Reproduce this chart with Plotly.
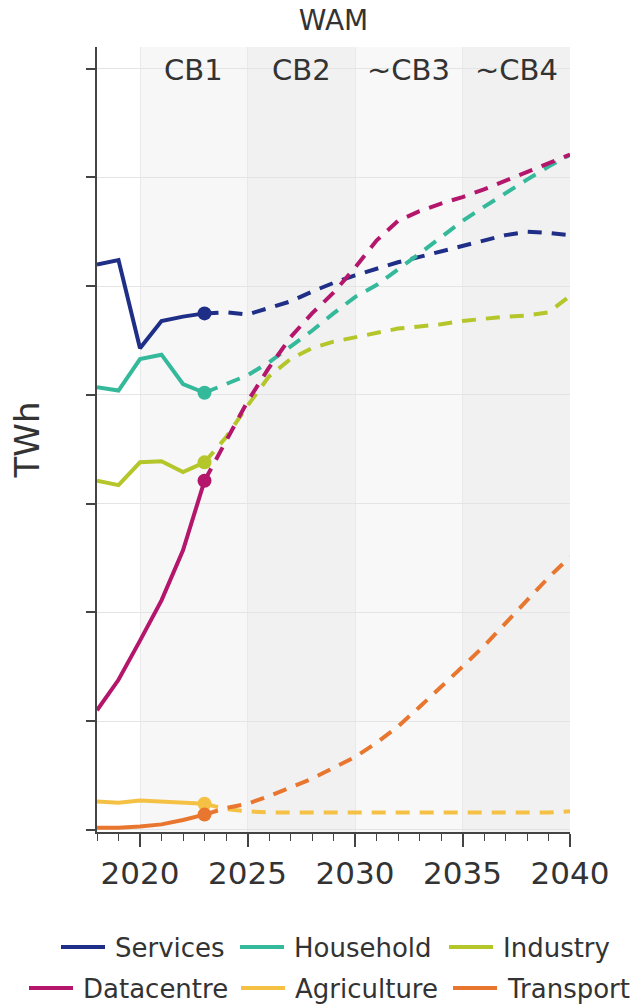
import plotly.graph_objects as go

# ---------------- data ----------------
years_hist = [2018, 2019, 2020, 2021, 2022, 2023]
years_proj = list(range(2023, 2041))

series_names = ["Services", "Household", "Industry", "Datacentre", "Agriculture", "Transport"]
series_colors = ["#1f2e86", "#35b99b", "#b4c62a", "#b4166c", "#f5c144", "#e8762f"]

services_hist = [5.20, 5.24, 4.43, 4.68, 4.72, 4.75]
services_proj = [4.75, 4.76, 4.74, 4.80, 4.86, 4.95, 5.03, 5.10, 5.16, 5.22,
                 5.27, 5.32, 5.37, 5.42, 5.47, 5.50, 5.49, 5.47]

household_hist = [4.07, 4.04, 4.33, 4.37, 4.10, 4.02]
household_proj = [4.02, 4.10, 4.18, 4.30, 4.44, 4.59, 4.75, 4.90, 5.01, 5.15,
                  5.30, 5.45, 5.60, 5.73, 5.86, 5.98, 6.10, 6.21]

industry_hist = [3.21, 3.17, 3.38, 3.39, 3.29, 3.38]
industry_proj = [3.38, 3.61, 3.90, 4.17, 4.33, 4.43, 4.49, 4.53, 4.57, 4.61,
                 4.63, 4.65, 4.68, 4.70, 4.72, 4.73, 4.76, 4.91]

datacentre_hist = [1.10, 1.38, 1.74, 2.11, 2.57, 3.21]
datacentre_proj = [3.21, 3.58, 3.94, 4.25, 4.53, 4.75, 4.94, 5.17, 5.42, 5.60,
                   5.69, 5.76, 5.82, 5.89, 5.97, 6.05, 6.13, 6.21]

agriculture_hist = [0.26, 0.25, 0.27, 0.26, 0.25, 0.24]
agriculture_proj = [0.24, 0.19, 0.17, 0.16, 0.16, 0.16, 0.16, 0.16, 0.16, 0.16,
                    0.16, 0.16, 0.16, 0.16, 0.16, 0.16, 0.16, 0.17]

transport_hist = [0.02, 0.02, 0.03, 0.05, 0.09, 0.14]
transport_proj = [0.14, 0.20, 0.24, 0.31, 0.39, 0.47, 0.57, 0.67, 0.80, 0.95,
                  1.13, 1.31, 1.50, 1.69, 1.90, 2.11, 2.32, 2.51]

hist_values = [services_hist, household_hist, industry_hist,
               datacentre_hist, agriculture_hist, transport_hist]
proj_values = [services_proj, household_proj, industry_proj,
               datacentre_proj, agriculture_proj, transport_proj]

band_edges = [2020, 2025, 2030, 2035, 2040]
band_labels = ["CB1", "CB2", "~CB3", "~CB4"]
band_fills = ["#f7f7f7", "#f1f1f1", "#f8f8f8", "#f1f1f1"]

title_text = "WAM"
y_title = "TWh"
x_tickvals = [2020, 2025, 2030, 2035, 2040]

# ---------------- layout geometry ----------------
W, H = 633, 1007
ML, MR, MT, MB = 97, 63, 47, 175
PW, PH = W - ML - MR, H - MT - MB
FONT = "DejaVu Sans"
TXT = "#333333"
LW = 4


def px_x(px):
    return (px - ML) / PW


def px_y(py):
    return (H - MB - py) / PH


# legend arrangement (two rows of three), pixel positions of each key line
legend_rows = [[0, 1, 2], [3, 4, 5]]
legend_row_y = [947, 988]
legend_line_x = [[61, 240, 449], [29, 241, 453]]
legend_line_len = 44
legend_text_gap = 8

fig = go.Figure()

for i, name in enumerate(series_names):
    color = series_colors[i]
    fig.add_trace(go.Scatter(
        x=years_hist, y=hist_values[i], mode="lines", name=name,
        line=dict(color=color, width=LW), showlegend=False, hoverinfo="skip"))
    fig.add_trace(go.Scatter(
        x=years_proj, y=proj_values[i], mode="lines", name=name + " (projection)",
        line=dict(color=color, width=LW, dash="14px,10px"),
        showlegend=False, hoverinfo="skip"))
    fig.add_trace(go.Scatter(
        x=[years_hist[-1]], y=[hist_values[i][-1]], mode="markers", name=name,
        marker=dict(color=color, size=14), showlegend=False, hoverinfo="skip",
        cliponaxis=False))

shapes = []
annotations = []
for j, lab in enumerate(band_labels):
    x0, x1 = band_edges[j], band_edges[j + 1]
    shapes.append(dict(type="rect", xref="x", yref="paper", x0=x0, x1=x1,
                       y0=0, y1=1, fillcolor=band_fills[j], line=dict(width=0),
                       layer="below"))
    annotations.append(dict(x=(x0 + x1) / 2, y=px_y(70), xref="x", yref="paper",
                            text=lab, showarrow=False, xanchor="center",
                            yanchor="middle",
                            font=dict(family=FONT, size=29, color=TXT)))

# manual legend
for r, row in enumerate(legend_rows):
    for k, idx in enumerate(row):
        lx = legend_line_x[r][k]
        ly = legend_row_y[r]
        shapes.append(dict(type="line", xref="paper", yref="paper",
                           x0=px_x(lx), x1=px_x(lx + legend_line_len),
                           y0=px_y(ly), y1=px_y(ly),
                           line=dict(color=series_colors[idx], width=LW)))
        annotations.append(dict(x=px_x(lx + legend_line_len + legend_text_gap),
                                y=px_y(ly + 1), xref="paper", yref="paper",
                                text=series_names[idx], showarrow=False,
                                xanchor="left", yanchor="middle",
                                font=dict(family=FONT, size=26, color=TXT)))

fig.update_layout(
    width=W, height=H,
    margin=dict(l=ML, r=MR, t=MT, b=MB, pad=0),
    paper_bgcolor="white", plot_bgcolor="white",
    font=dict(family=FONT, color=TXT),
    showlegend=False,
    title=dict(text=title_text, x=(ML + PW / 2) / W, xanchor="center",
               y=1 - 20 / H, yanchor="middle",
               font=dict(family=FONT, size=28, color=TXT)),
    shapes=shapes, annotations=annotations,
    xaxis=dict(range=[2018, 2040], tickvals=x_tickvals, ticks="outside",
               ticklen=13, tickwidth=1.5, tickcolor="#444",
               showline=True, linecolor="#444", linewidth=1.5,
               showgrid=True, gridcolor="#e9e9e9", gridwidth=1,
               zeroline=False,
               tickfont=dict(family=FONT, size=31, color=TXT),
               minor=dict(dtick=1, ticks="outside", ticklen=7,
                          tickwidth=1, tickcolor="#444", showgrid=False)),
    yaxis=dict(range=[-0.02, 7.2], dtick=1, tick0=0, ticks="outside",
               ticklen=9, tickwidth=1.5, tickcolor="#444",
               showline=True, linecolor="#444", linewidth=1.5,
               showgrid=True, gridcolor="#e4e4e4", gridwidth=1,
               zeroline=False, showticklabels=False,
               title=dict(text=y_title, standoff=36,
                          font=dict(family=FONT, size=34, color=TXT))),
)

fig.write_html("out.html")
